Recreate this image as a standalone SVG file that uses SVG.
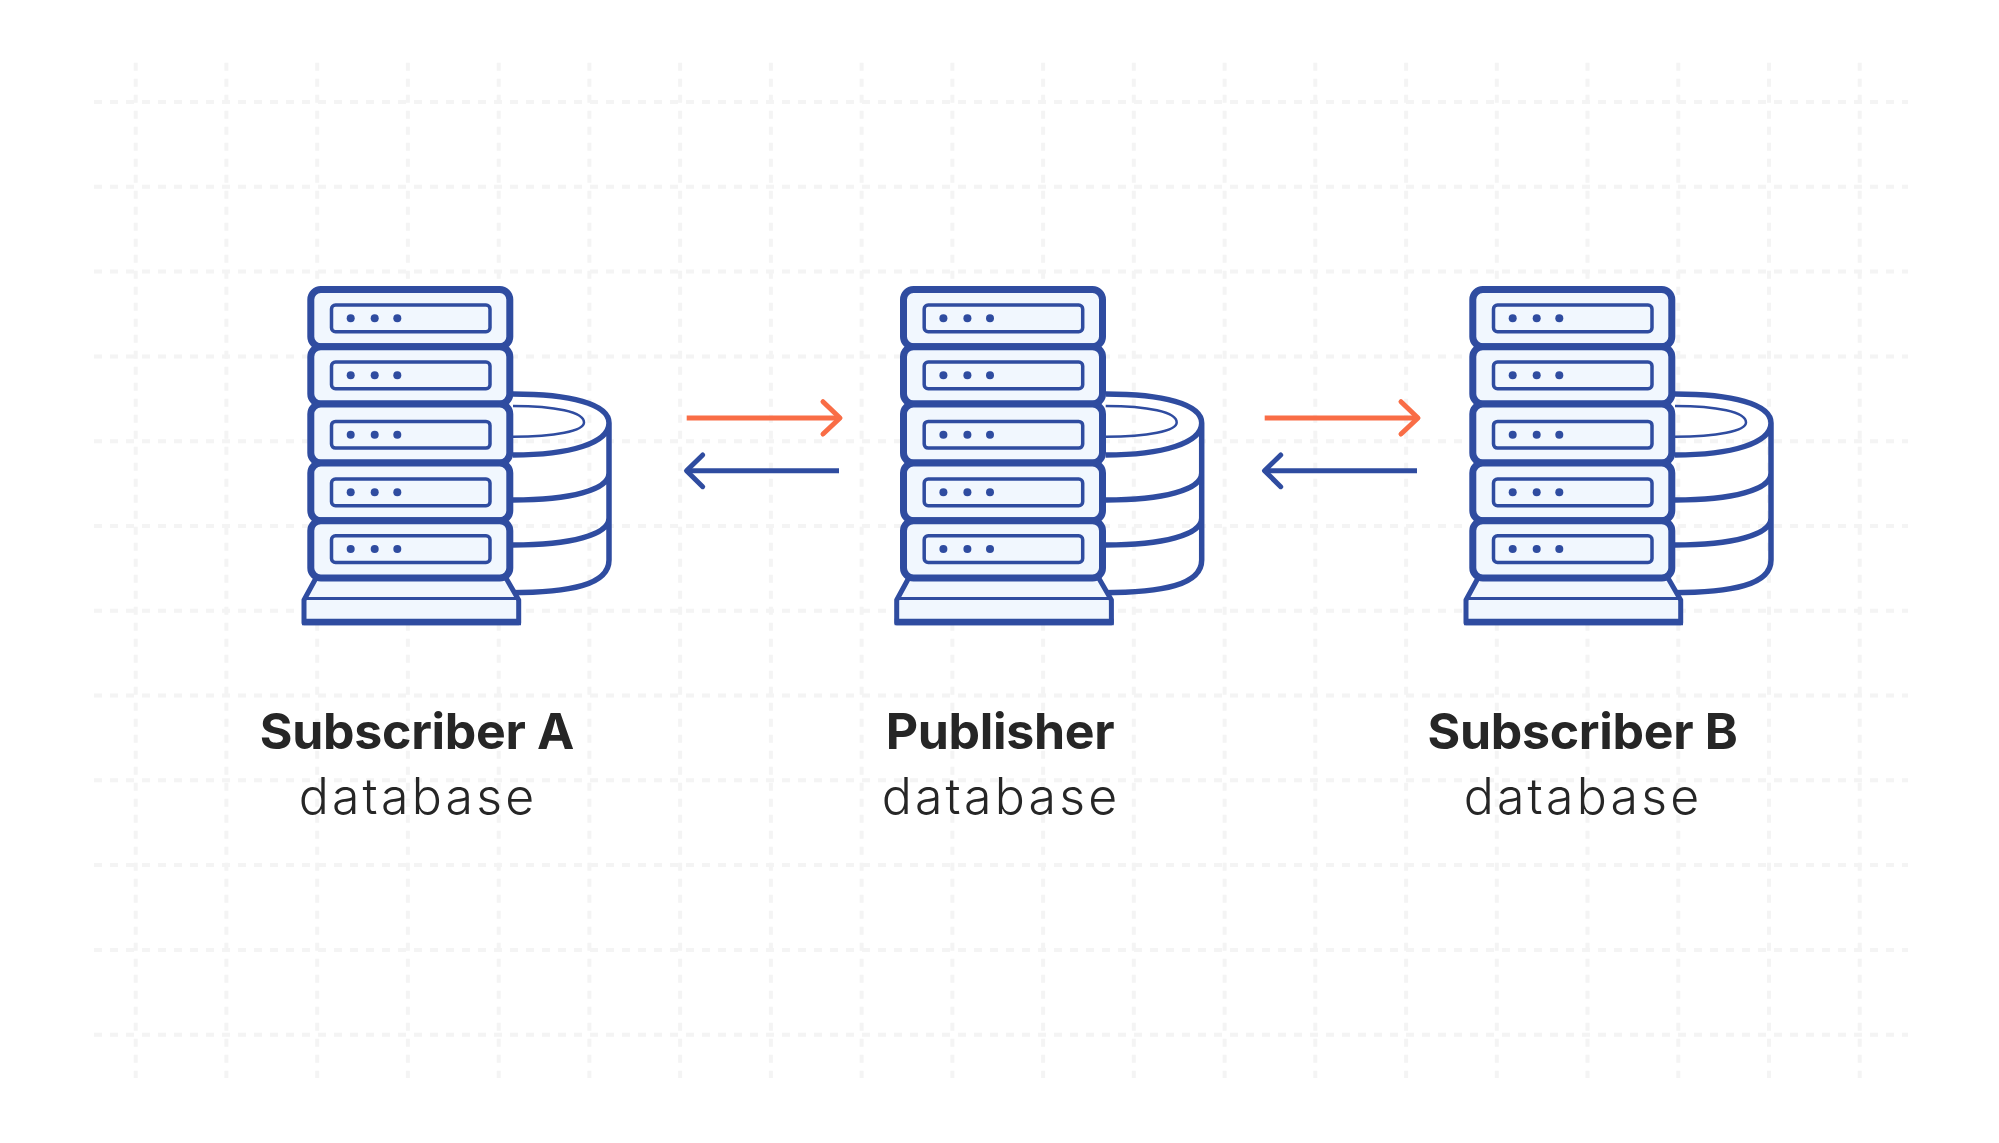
<svg xmlns="http://www.w3.org/2000/svg" xmlns:xlink="http://www.w3.org/1999/xlink" width="1999" height="1143" viewBox="0 0 1999 1143">
<style>
.gh{stroke:#f4f4f4;stroke-width:4;stroke-dasharray:8 8;fill:none}
.box{fill:#f1f7fe;stroke:#2f4ca0;stroke-width:7}
.in{fill:none;stroke:#2f4ca0;stroke-width:3.5}
.dot{fill:#2f4ca0}
.disk{fill:none;stroke:#2f4ca0;stroke-width:5.5}
.thin{fill:none;stroke:#2f4ca0;stroke-width:2.5}
.base{fill:#f1f7fe;stroke:#2f4ca0;stroke-width:5;stroke-linejoin:round}
.bt{fill:none;stroke:#2f4ca0;stroke-width:3}
.bb{fill:none;stroke:#2f4ca0;stroke-width:6.5}
.o{fill:none;stroke:#f96d46;stroke-width:5;stroke-linejoin:round}
.b{fill:none;stroke:#2f4ca0;stroke-width:5;stroke-linejoin:round}
.oh{stroke-linecap:round}
text{font-family:"Inter","Liberation Sans",sans-serif;fill:#262626;text-anchor:middle}
.t{font-weight:700;font-size:50px;letter-spacing:-.3px}
.s{font-weight:300;font-size:50px;letter-spacing:3.2px}
</style>
<defs>
<g id="unit"><rect class="in" x="331.5" y="305" width="158.5" height="26.7" rx="4"/><circle class="dot" cx="350.7" cy="318.3" r="4"/><circle class="dot" cx="374.7" cy="318.3" r="4"/><circle class="dot" cx="397.3" cy="318.3" r="4"/></g>
<g id="srv">
<path class="disk" d="M513 394C570 394 609 404 609 423C609 443 570 455 513 455M513 500C570 500 609 490 609 473M513 545C570 545 609 535 609 518M510 592.7C570 592.7 609 585 609 560V423"/>
<path class="thin" d="M513 406C555 406 584 412 584 422.5C584 431 555 436.7 513 436.7"/>
<path class="base" d="M316 578L304 600V622.7H518.7V600L506 578Z"/>
<path class="bt" d="M306 598.5H517"/>
<path class="bb" d="M302 622H521"/>
<rect class="box" x="310.8" y="289.5" width="199" height="57.2" rx="10"/><use href="#unit"/>
<rect class="box" x="310.8" y="346.7" width="199" height="57.3" rx="10"/><use href="#unit" y="57"/>
<rect class="box" x="310.8" y="404" width="199" height="59" rx="10"/><use href="#unit" y="116.4"/>
<rect class="box" x="310.8" y="463" width="199" height="57.7" rx="10"/><use href="#unit" y="174"/>
<rect class="box" x="310.8" y="520.7" width="199" height="57.3" rx="10"/><use href="#unit" y="230.8"/>
</g>
<g id="arrows">
<path class="o" d="M686.7 418H838"/><path class="o oh" d="M823 401.7L840 418L823 434"/>
<path class="b" d="M839 470.7H689"/><path class="b oh" d="M702.7 455L686.5 470.7L702.7 486.7"/>
</g>
</defs>
<rect width="1999" height="1143" fill="#fff"/>
<g id="grid">
<path class="gh" d="M94 102H1908M94 186.8H1908M94 271.6H1908M94 356.4H1908M94 441.2H1908M94 526H1908M94 610.7H1908M94 695.5H1908M94 780.3H1908M94 865.1H1908M94 949.9H1908M94 1034.7H1908"/>
<path class="gh" d="M135.7 62.7V1078M226.4 62.7V1078M317.2 62.7V1078M407.9 62.7V1078M498.7 62.7V1078M589.4 62.7V1078M680.1 62.7V1078M770.9 62.7V1078M861.6 62.7V1078M952.4 62.7V1078M1043.1 62.7V1078M1133.8 62.7V1078M1224.6 62.7V1078M1315.3 62.7V1078M1406.1 62.7V1078M1496.8 62.7V1078M1587.5 62.7V1078M1678.3 62.7V1078M1769 62.7V1078M1859.7 62.7V1078"/>
</g>
<g id="connectors">
<use href="#arrows"/>
<use href="#arrows" x="578"/>
</g>
<g id="subscriber-a"><use href="#srv"/><text class="t" x="417" y="749">Subscriber A</text><text class="s" x="418" y="814">database</text></g>
<g id="publisher"><use href="#srv" x="592.7"/><text class="t" x="1000" y="749">Publisher</text><text class="s" x="1001" y="814">database</text></g>
<g id="subscriber-b"><use href="#srv" x="1162"/><text class="t" x="1582.5" y="749">Subscriber B</text><text class="s" x="1583" y="814">database</text></g>
</svg>
